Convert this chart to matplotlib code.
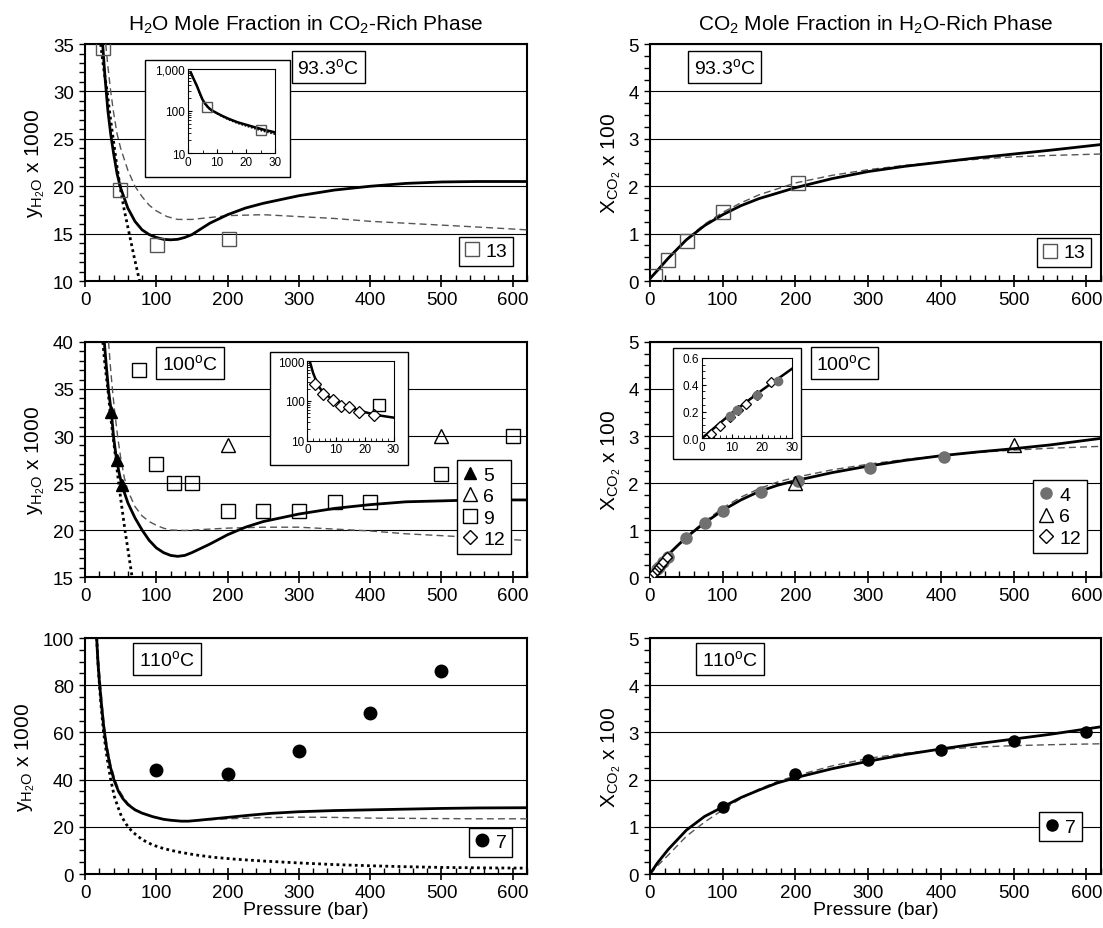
import matplotlib
matplotlib.use('Agg')
import matplotlib.pyplot as plt
from matplotlib.lines import Line2D
from matplotlib.patches import Rectangle
from matplotlib.ticker import MultipleLocator, FuncFormatter, FormatStrFormatter, NullFormatter

plt.rcParams['font.family'] = ['Liberation Sans', 'DejaVu Sans']
plt.rcParams['mathtext.fontset'] = 'custom'
plt.rcParams['mathtext.rm'] = 'Liberation Sans'
plt.rcParams['mathtext.it'] = 'Liberation Sans:italic'

# ---------------- 93.3 C, H2O in CO2-rich phase ----------------
a_sol_x = [24.7, 28, 32, 36, 40, 45, 50, 60, 70, 80, 90, 100, 110, 120, 130, 140, 150, 175, 200, 225, 250, 300, 350, 400, 450, 500, 550, 620]
a_sol_y = [35, 31.5, 28, 25.5, 23.5, 21.3, 19.8, 17.7, 16.3, 15.4, 14.9, 14.6, 14.4, 14.35, 14.4, 14.6, 14.9, 16.1, 17.0, 17.7, 18.2, 19.0, 19.6, 20.0, 20.3, 20.45, 20.5, 20.5]
a_das_x = [29, 32, 36, 40, 45, 50, 60, 70, 80, 90, 100, 115, 130, 150, 175, 200, 250, 300, 350, 400, 450, 500, 550, 620]
a_das_y = [35, 32.7, 30, 27.8, 25.5, 24.0, 21.7, 20.0, 18.9, 18.0, 17.4, 16.8, 16.5, 16.5, 16.7, 16.9, 17.0, 16.8, 16.6, 16.3, 16.1, 15.9, 15.7, 15.4]
a_dot_x = [22, 26, 31, 35, 39.5, 44, 49, 55, 62, 69, 76.5]
a_dot_y = [35, 32.5, 30, 27.5, 25, 22.5, 20, 17.5, 15, 12.5, 10]
a_sq_x = [24.7, 49.4, 101, 202]
a_sq_y = [34.6, 19.6, 13.8, 14.4]
# inset
ai_x = [1, 2, 3, 4, 5, 6, 7, 8, 10, 12, 14, 17, 20, 23, 26, 30]
ai_sol = [800, 560, 400, 270, 185, 145, 120, 105, 88, 75, 65, 54, 47, 41, 36, 31]
ai_das = [800, 560, 400, 270, 185, 145, 120, 105, 88, 74, 64, 53, 46, 40, 35, 29]
ai_dot = [800, 550, 390, 260, 180, 140, 117, 103, 86, 72, 62, 51, 44, 38, 33, 28]
ai_sq_x = [6.65, 25.2]
ai_sq_y = [127, 36]

# ---------------- 93.3 C, CO2 in H2O-rich phase ----------------
b_x = [0, 10, 25, 50, 75, 100, 125, 150, 200, 250, 300, 350, 400, 450, 500, 550, 620]
b_sol = [0.05, 0.22, 0.48, 0.87, 1.17, 1.40, 1.59, 1.74, 1.97, 2.16, 2.31, 2.42, 2.51, 2.60, 2.68, 2.76, 2.88]
b_das = [0.05, 0.24, 0.48, 0.88, 1.20, 1.45, 1.65, 1.82, 2.07, 2.23, 2.35, 2.44, 2.51, 2.57, 2.62, 2.65, 2.68]
b_sq_x = [6.8, 25, 51, 101, 203]
b_sq_y = [0.1, 0.45, 0.84, 1.45, 2.07]

# ---------------- 100 C, H2O in CO2-rich phase ----------------
c_sol_x = [27, 30, 33, 37, 40, 44, 48, 52, 60, 70, 80, 90, 100, 110, 120, 130, 140, 150, 175, 200, 225, 250, 300, 350, 400, 450, 500, 550, 620]
c_sol_y = [40, 37.3, 34.8, 32.5, 29.9, 27.6, 26, 24.7, 22.9, 21.3, 20.0, 18.9, 18.1, 17.6, 17.3, 17.2, 17.3, 17.6, 18.5, 19.5, 20.3, 20.9, 21.7, 22.3, 22.7, 23.0, 23.1, 23.2, 23.2]
c_das_x = [33, 36, 39, 42, 46, 50, 55, 60, 70, 80, 90, 100, 110, 120, 140, 175, 200, 250, 300, 350, 400, 450, 500, 550, 616]
c_das_y = [40, 37, 34.5, 32.3, 29.8, 27.7, 25.6, 24.2, 22.5, 21.5, 20.9, 20.5, 20.2, 20.0, 19.95, 20.1, 20.2, 20.3, 20.3, 20.1, 19.9, 19.6, 19.4, 19.2, 18.9]
c_dot_x = [25, 28, 32, 36, 40, 44, 48, 52, 56, 60, 66]
c_dot_y = [40, 37.5, 35, 32, 29.5, 27, 24.5, 22.2, 20, 18, 15]
c_tri5_x = [37, 45.4, 51.8]
c_tri5_y = [32.5, 27.4, 24.8]
c_tri6_x = [200, 500]
c_tri6_y = [29, 30]
c_sq9_x = [75, 100, 125, 150, 200, 250, 300, 350, 400, 500, 600]
c_sq9_y = [37, 27, 25, 25, 22, 22, 22, 23, 23, 26, 30]
# inset
ci_x = [0.5, 1, 2, 3, 4, 5, 6, 8, 10, 12, 15, 18, 22, 26, 30]
ci_sol = [1200, 900, 500, 330, 230, 180, 150, 120, 100, 85, 68, 57, 48, 42, 38]
ci_das = [1200, 900, 500, 330, 230, 178, 148, 118, 98, 83, 67, 56, 47, 41, 37]
ci_dia_x = [2.7, 5.5, 8.8, 11.6, 14.6, 18, 23.1]
ci_dia_y = [268, 145, 108, 73, 69, 52, 44]
ci_sq_x = [25.1]
ci_sq_y = [78]

# ---------------- 100 C, CO2 in H2O-rich phase ----------------
d_x = [0, 10, 20, 30, 40, 50, 60, 75, 100, 125, 150, 175, 200, 250, 300, 350, 400, 450, 500, 550, 620]
d_sol = [0, 0.2, 0.39, 0.55, 0.70, 0.84, 0.97, 1.15, 1.42, 1.64, 1.82, 1.95, 2.05, 2.22, 2.36, 2.48, 2.58, 2.66, 2.73, 2.81, 2.95]
d_das = [0, 0.19, 0.38, 0.55, 0.71, 0.86, 0.99, 1.18, 1.47, 1.70, 1.88, 2.02, 2.12, 2.28, 2.40, 2.50, 2.58, 2.65, 2.70, 2.74, 2.78]
d_c4_x = [9.4, 11.8, 18.2, 25.3, 50, 75, 100, 152, 203, 303, 404]
d_c4_y = [0.165, 0.21, 0.32, 0.43, 0.82, 1.15, 1.41, 1.81, 2.05, 2.31, 2.55]
d_tri6_x = [200, 500]
d_tri6_y = [2.0, 2.8]
d_dia_x = [2.9, 5.9, 9.2, 12, 14.7, 18.2, 23]
d_dia_y = [0.03, 0.095, 0.16, 0.21, 0.26, 0.32, 0.42]
di_x = [0, 5, 10, 15, 20, 25, 30]
di_sol = [0, 0.095, 0.19, 0.275, 0.36, 0.44, 0.52]

# ---------------- 110 C, H2O in CO2-rich phase ----------------
e_sol_x = [16.3, 18, 20, 23, 26, 30, 35, 41, 47, 53, 60, 70, 80, 95, 110, 120, 135, 145, 160, 180, 200, 230, 260, 300, 350, 400, 450, 500, 550, 620]
e_sol_y = [100, 90, 82, 72, 63, 54, 46, 39.5, 35, 32, 29.5, 27.2, 25.8, 24.3, 23.2, 22.8, 22.4, 22.4, 22.8, 23.4, 24.0, 24.9, 25.7, 26.4, 26.9, 27.2, 27.5, 27.8, 28.0, 28.1]
e_das_x = [17, 19, 21, 24, 27, 31, 36, 41, 47, 53, 60, 70, 80, 95, 110, 120, 135, 145, 160, 180, 200, 250, 300, 350, 400, 450, 500, 550, 620]
e_das_y = [100, 91, 83, 72, 63, 54, 46.5, 41, 36, 33, 30, 27.5, 26, 24.3, 23.1, 22.7, 22.4, 22.4, 22.7, 23.1, 23.4, 23.9, 24.1, 24.0, 23.7, 23.6, 23.5, 23.4, 23.4]
e_dot_x = [16.3, 19, 22, 26, 31, 36, 41, 46, 51, 58, 66, 80, 95, 110, 130, 155, 180, 210, 250, 300, 350, 400, 450, 500, 560, 620]
e_dot_y = [100, 85, 73, 60, 49, 40, 33, 28.5, 24.5, 21, 18, 14.6, 12.3, 10.8, 9.4, 8.1, 7.1, 6.3, 5.5, 4.7, 4.0, 3.5, 3.1, 2.8, 2.6, 2.5]
e_c7_x = [100, 200, 300, 400, 500]
e_c7_y = [44.1, 42.3, 52.2, 68.1, 86.2]

# ---------------- 110 C, CO2 in H2O-rich phase ----------------
f_x = [0, 10, 25, 50, 75, 100, 125, 150, 175, 200, 250, 300, 350, 400, 450, 500, 550, 620]
f_sol = [0, 0.23, 0.52, 0.93, 1.22, 1.42, 1.62, 1.78, 1.93, 2.04, 2.23, 2.39, 2.53, 2.65, 2.76, 2.86, 2.96, 3.12]
f_das = [0, 0.17, 0.40, 0.80, 1.10, 1.36, 1.60, 1.80, 1.96, 2.08, 2.29, 2.45, 2.56, 2.64, 2.69, 2.72, 2.74, 2.76]
f_c7_x = [100, 200, 300, 400, 500, 600]
f_c7_y = [1.42, 2.12, 2.42, 2.62, 2.82, 3.02]

SOL = dict(color='black', lw=2.0, zorder=3)
DAS = dict(color='#555555', lw=1.0, dashes=(5, 3), zorder=3)
DOT = dict(color='black', lw=2.0, ls=(0, (1, 1.2)), zorder=3)
SQ = dict(ls='none', marker='s', ms=10, mfc='none', mec='black', mew=1.0, zorder=4)

fig = plt.figure(figsize=(11.03, 9.29), dpi=100)
colx = [0.0771, 0.5893]
colw = [0.4007, 0.4089]
rows = [(0.6964, 0.2551), (0.3778, 0.2530), (0.0581, 0.2540)]

TICK_FS = 13.5
LAB_FS = 15


def make_ax(r, c, ylim, ymaj, ymin):
    ax = fig.add_axes([colx[c], rows[r][0], colw[c], rows[r][1]])
    ax.set_xlim(0, 620)
    ax.set_ylim(*ylim)
    ax.xaxis.set_major_locator(MultipleLocator(100))
    ax.xaxis.set_minor_locator(MultipleLocator(20))
    ax.yaxis.set_major_locator(MultipleLocator(ymaj))
    ax.yaxis.set_minor_locator(MultipleLocator(ymin))
    ax.tick_params(axis='x', which='major', direction='inout', length=8, width=1.2, labelsize=TICK_FS, pad=3)
    ax.tick_params(axis='x', which='minor', direction='in', length=4, width=1)
    ax.tick_params(axis='y', which='both', direction='out', length=4, width=1, labelsize=TICK_FS, pad=4)
    ax.grid(axis='y', which='major', color='black', lw=0.8)
    ax.set_axisbelow(True)
    for s in ax.spines.values():
        s.set_linewidth(1.5)
    return ax


def tag(ax, x, y, s):
    ax.text(x, y, s, transform=ax.transAxes, ha='center', va='center', fontsize=14, zorder=7,
            bbox=dict(boxstyle='square,pad=0.3', fc='white', ec='black', lw=1))


def leg(ax, handles, labels, x, y):
    lg = ax.legend(handles, labels, loc='center', bbox_to_anchor=(x, y), frameon=True, fancybox=False,
                   edgecolor='black', framealpha=1, handlelength=0.7, handletextpad=0.35, borderpad=0.3,
                   labelspacing=0.2, fontsize=14, numpoints=1, borderaxespad=0)
    lg.get_frame().set_linewidth(1)
    lg.set_zorder(7)


def frame(ax, box):
    ax.add_patch(Rectangle(box[:2], box[2], box[3], transform=ax.transAxes, fc='white', ec='black',
                           lw=1, zorder=5))


def inset(ax, pos):
    ia = ax.inset_axes(pos)
    ia.set_zorder(6)
    ia.tick_params(which='both', direction='in', labelsize=8.5, pad=2)
    ia.tick_params(which='major', length=3)
    ia.tick_params(which='minor', length=2)
    ia.set_xlim(0, 30)
    ia.xaxis.set_major_locator(MultipleLocator(10))
    return ia


ylab1 = r'y$_{\mathregular{H_2O}}$ x 1000'
ylab2 = r'X$_{\mathregular{CO_2}}$ x 100'

# ---- row 1 left ----
ax = make_ax(0, 0, (10, 35), 5, 1)
ax.plot(a_dot_x, a_dot_y, **DOT)
ax.plot(a_das_x, a_das_y, **DAS)
ax.plot(a_sol_x, a_sol_y, **SOL)
ax.plot(a_sq_x, a_sq_y, **dict(SQ, mec='#555555'))
ax.set_ylabel(ylab1, fontsize=LAB_FS)
ax.set_title(r'H$_\mathregular{2}$O Mole Fraction in CO$_\mathregular{2}$-Rich Phase', fontsize=15, pad=10)
tag(ax, 0.55, 0.902, r'93.3$^\mathregular{o}$C')
leg(ax, [Line2D([], [], **dict(SQ, mec='#555555'))], ['13'], 0.908, 0.126)
frame(ax, [0.136, 0.441, 0.328, 0.492])
ia = inset(ax, [0.233, 0.540, 0.197, 0.356])
ia.set_yscale('log')
ia.set_ylim(10, 1000)
ia.plot(ai_x, ai_dot, color='black', lw=1.2, ls=(0, (1, 1)))
ia.plot(ai_x, ai_das, color='#555555', lw=0.8, dashes=(4, 2))
ia.plot(ai_x, ai_sol, color='black', lw=1.8)
ia.plot(ai_sq_x, ai_sq_y, ls='none', marker='s', ms=7, mfc='none', mec='#555555', mew=1)
ia.xaxis.set_minor_locator(MultipleLocator(5))
ia.yaxis.set_major_formatter(FuncFormatter(lambda v, p: f'{v:,.0f}'))
ia.yaxis.set_minor_formatter(NullFormatter())

# ---- row 1 right ----
ax = make_ax(0, 1, (0, 5), 1, 0.25)
ax.plot(b_x, b_das, **DAS)
ax.plot(b_x, b_sol, **SOL)
ax.plot(b_sq_x, b_sq_y, **dict(SQ, mec='#555555'))
ax.set_ylabel(ylab2, fontsize=LAB_FS)
ax.set_title(r'CO$_\mathregular{2}$ Mole Fraction in H$_\mathregular{2}$O-Rich Phase', fontsize=15, pad=10)
tag(ax, 0.166, 0.903, r'93.3$^\mathregular{o}$C')
leg(ax, [Line2D([], [], **dict(SQ, mec='#555555'))], ['13'], 0.918, 0.12)

# ---- row 2 left ----
ax = make_ax(1, 0, (15, 40), 5, 1)
ax.plot(c_dot_x, c_dot_y, **DOT)
ax.plot(c_das_x, c_das_y, **DAS)
ax.plot(c_sol_x, c_sol_y, **SOL)
TRI5 = dict(ls='none', marker='^', ms=9, mfc='black', mec='black', zorder=4)
TRI6 = dict(ls='none', marker='^', ms=10, mfc='none', mec='black', mew=1.0, zorder=4)
DIA = dict(ls='none', marker='D', ms=7, mfc='white', mec='black', mew=1.0, zorder=4)
ax.plot(c_tri5_x, c_tri5_y, **TRI5)
ax.plot(c_tri6_x, c_tri6_y, **TRI6)
ax.plot(c_sq9_x, c_sq9_y, **SQ)
ax.set_ylabel(ylab1, fontsize=LAB_FS)
tag(ax, 0.237, 0.912, r'100$^\mathregular{o}$C')
leg(ax, [Line2D([], [], **TRI5), Line2D([], [], **TRI6), Line2D([], [], **SQ), Line2D([], [], **DIA)],
    ['5', '6', '9', '12'], 0.903, 0.298)
frame(ax, [0.419, 0.478, 0.312, 0.480])
ia = inset(ax, [0.503, 0.580, 0.195, 0.339])
ia.set_yscale('log')
ia.set_ylim(10, 1000)
ia.plot(ci_x, ci_das, color='#555555', lw=0.8, dashes=(4, 2))
ia.plot(ci_x, ci_sol, color='black', lw=1.8)
ia.plot(ci_dia_x, ci_dia_y, ls='none', marker='D', ms=6, mfc='white', mec='black', mew=0.9)
ia.plot(ci_sq_x, ci_sq_y, ls='none', marker='s', ms=8, mfc='none', mec='black', mew=1)
ia.xaxis.set_minor_locator(MultipleLocator(2))
ia.yaxis.set_major_formatter(FuncFormatter(lambda v, p: f'{v:.0f}'))
ia.yaxis.set_minor_formatter(NullFormatter())

# ---- row 2 right ----
ax = make_ax(1, 1, (0, 5), 1, 0.25)
ax.plot(d_x, d_das, **DAS)
ax.plot(d_x, d_sol, **SOL)
C4 = dict(ls='none', marker='o', ms=8, mfc='#707070', mec='#707070', zorder=4)
ax.plot(d_c4_x, d_c4_y, **C4)
ax.plot(d_tri6_x, d_tri6_y, **TRI6)
ax.plot(d_dia_x, d_dia_y, **dict(DIA, ms=5))
ax.set_ylabel(ylab2, fontsize=LAB_FS)
tag(ax, 0.431, 0.91, r'100$^\mathregular{o}$C')
leg(ax, [Line2D([], [], **C4), Line2D([], [], **TRI6), Line2D([], [], **DIA)], ['4', '6', '12'], 0.909, 0.257)
frame(ax, [0.051, 0.504, 0.284, 0.470])
ia = inset(ax, [0.115, 0.590, 0.200, 0.342])
ia.set_ylim(0, 0.6)
ia.plot(di_x, di_sol, color='black', lw=1.8)
ia.plot(d_dia_x, d_dia_y, ls='none', marker='D', ms=5.5, mfc='white', mec='black', mew=0.9)
ia.plot(d_c4_x[:4], d_c4_y[:4], ls='none', marker='o', ms=6, mfc='#707070', mec='#707070')
ia.xaxis.set_minor_locator(MultipleLocator(2))
ia.yaxis.set_major_locator(MultipleLocator(0.2))
ia.yaxis.set_minor_locator(MultipleLocator(0.05))
ia.yaxis.set_major_formatter(FormatStrFormatter('%.1f'))

# ---- row 3 left ----
ax = make_ax(2, 0, (0, 100), 20, 5)
ax.plot(e_dot_x, e_dot_y, **DOT)
ax.plot(e_das_x, e_das_y, **DAS)
ax.plot(e_sol_x, e_sol_y, **SOL)
C7 = dict(ls='none', marker='o', ms=9, mfc='black', mec='black', zorder=4)
ax.plot(e_c7_x, e_c7_y, **C7)
ax.set_ylabel(ylab1, fontsize=LAB_FS)
ax.set_xlabel('Pressure (bar)', fontsize=14, labelpad=0)
tag(ax, 0.185, 0.91, r'110$^\mathregular{o}$C')
leg(ax, [Line2D([], [], **C7)], ['7'], 0.918, 0.134)

# ---- row 3 right ----
ax = make_ax(2, 1, (0, 5), 1, 0.25)
ax.plot(f_x, f_das, **DAS)
ax.plot(f_x, f_sol, **SOL)
ax.plot(f_c7_x, f_c7_y, **dict(C7, ms=8))
ax.set_ylabel(ylab2, fontsize=LAB_FS)
ax.set_xlabel('Pressure (bar)', fontsize=14, labelpad=0)
tag(ax, 0.177, 0.912, r'110$^\mathregular{o}$C')
leg(ax, [Line2D([], [], **dict(C7, ms=8))], ['7'], 0.91, 0.2)

fig.savefig('out.png', dpi=100)
